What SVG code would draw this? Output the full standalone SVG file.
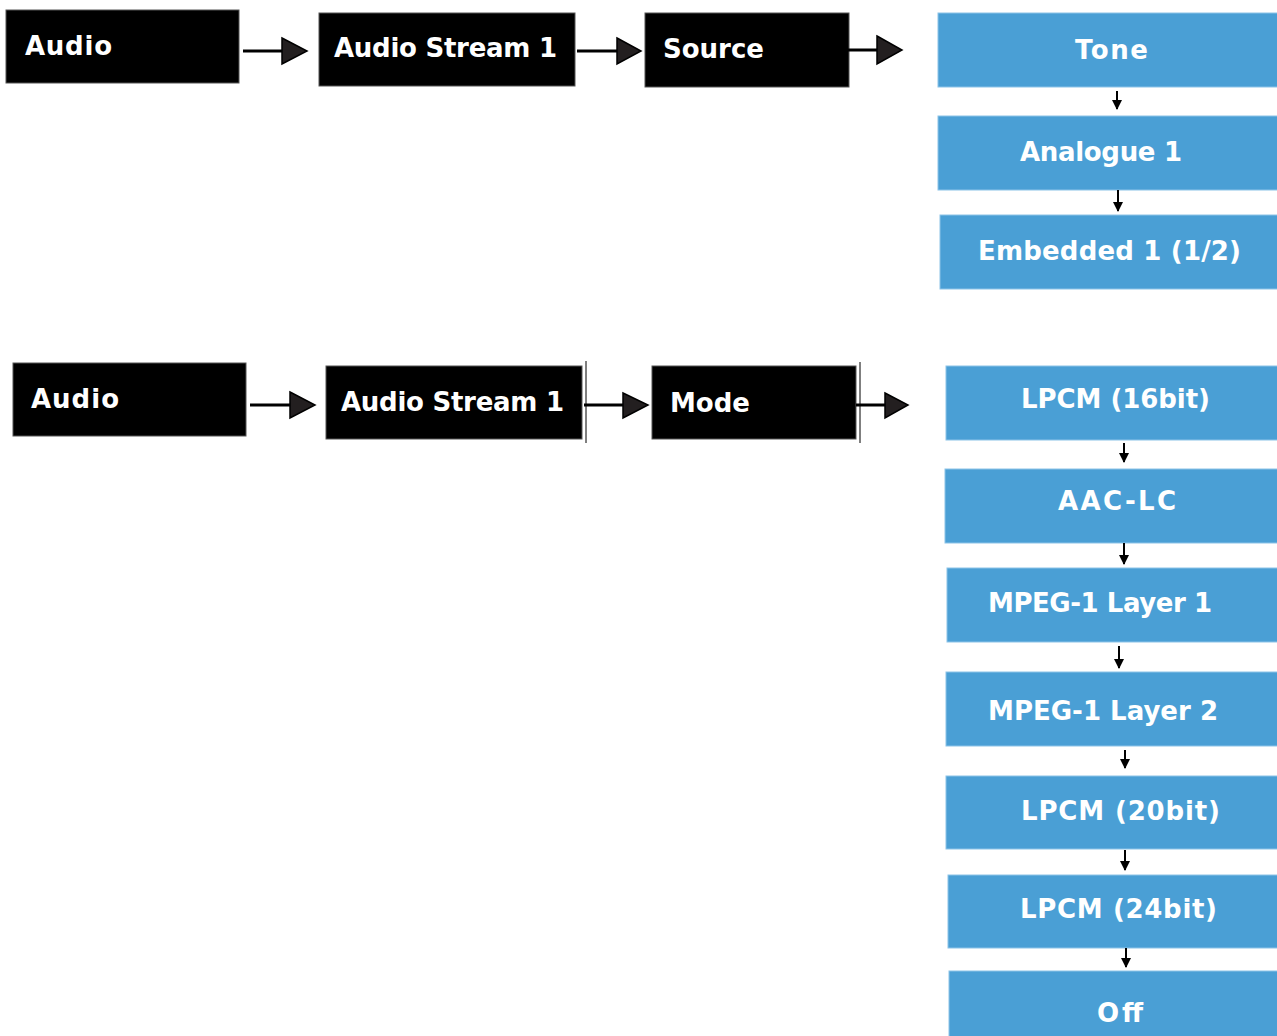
<svg xmlns="http://www.w3.org/2000/svg" width="1277" height="1036" viewBox="0 0 1277 1036">
<defs>
<style>
.blk{fill:#000;stroke:#555;stroke-width:1}
.blu{fill:#4a9fd5;stroke:#8cc3e8;stroke-width:1}
.t{font-family:"DejaVu Sans","Liberation Sans",Arial,sans-serif;font-weight:bold;font-size:26px;fill:#fff}
.ln{stroke:#000;stroke-width:3;fill:none}
.head{fill:#231f20;stroke:#000;stroke-width:1.5;stroke-linejoin:miter}
.sl{stroke:#000;stroke-width:2;fill:none}
.vl{stroke:#000;stroke-width:1;fill:none}
</style>
<marker id="sm" viewBox="0 0 10 10" refX="9" refY="5" markerWidth="10" markerHeight="10" markerUnits="userSpaceOnUse" orient="auto">
<path d="M0,0 L10,5 L0,10 Z" fill="#000"/>
</marker>
</defs>
<rect width="1277" height="1036" fill="#fff"/>

<g id="n-audio1"><rect class="blk" x="6" y="10" width="233" height="73"/><text class="t" x="25" y="55" textLength="87" lengthAdjust="spacing">Audio</text></g>
<g id="n-stream1"><rect class="blk" x="319" y="13" width="256" height="73"/><text class="t" x="334" y="57" textLength="223" lengthAdjust="spacing">Audio Stream 1</text></g>
<g id="n-source"><rect class="blk" x="645" y="13" width="204" height="74"/><text class="t" x="663" y="58" textLength="101" lengthAdjust="spacing">Source</text></g>
<g id="n-tone"><rect class="blu" x="938" y="13" width="340" height="74"/><text class="t" x="1075" y="59" textLength="73" lengthAdjust="spacing">Tone</text></g>
<g id="n-analogue"><rect class="blu" x="938" y="116" width="340" height="74"/><text class="t" x="1020" y="161" textLength="162" lengthAdjust="spacing">Analogue 1</text></g>
<g id="n-embedded"><rect class="blu" x="940" y="215" width="338" height="74"/><text class="t" x="978" y="260" textLength="263" lengthAdjust="spacing">Embedded 1 (1/2)</text></g>

<g id="n-audio2"><rect class="blk" x="13" y="363" width="233" height="73"/><text class="t" x="31" y="408" textLength="88" lengthAdjust="spacing">Audio</text></g>
<g id="n-stream2"><rect class="blk" x="326" y="366" width="256" height="73"/><text class="t" x="341" y="411" textLength="223" lengthAdjust="spacing">Audio Stream 1</text></g>
<g id="n-mode"><rect class="blk" x="652" y="366" width="204" height="73"/><text class="t" x="670" y="412" textLength="80" lengthAdjust="spacing">Mode</text></g>
<g id="n-lpcm16"><rect class="blu" x="946" y="366" width="332" height="74"/><text class="t" x="1021" y="408" textLength="189" lengthAdjust="spacing">LPCM (16bit)</text></g>
<g id="n-aac"><rect class="blu" x="945" y="469" width="333" height="74"/><text class="t" x="1058" y="510" textLength="118" lengthAdjust="spacing">AAC-LC</text></g>
<g id="n-mpeg1"><rect class="blu" x="947" y="568" width="331" height="74"/><text class="t" x="988" y="612" textLength="224" lengthAdjust="spacing">MPEG-1 Layer 1</text></g>
<g id="n-mpeg2"><rect class="blu" x="946" y="672" width="332" height="74"/><text class="t" x="988" y="720" textLength="230" lengthAdjust="spacing">MPEG-1 Layer 2</text></g>
<g id="n-lpcm20"><rect class="blu" x="946" y="776" width="332" height="73"/><text class="t" x="1021" y="820" textLength="199" lengthAdjust="spacing">LPCM (20bit)</text></g>
<g id="n-lpcm24"><rect class="blu" x="948" y="875" width="330" height="73"/><text class="t" x="1020" y="918" textLength="197" lengthAdjust="spacing">LPCM (24bit)</text></g>
<g id="n-off"><rect class="blu" x="949" y="971" width="329" height="66"/><text class="t" x="1097" y="1022" textLength="46" lengthAdjust="spacing">Off</text></g>

<g id="connectors">
<line class="ln" x1="243" y1="51" x2="283" y2="51"/><path class="head" d="M282,38 L307,51 L282,64 Z"/>
<line class="ln" x1="577" y1="51" x2="618" y2="51"/><path class="head" d="M617,38 L641,51 L617,64 Z"/>
<line class="ln" x1="838" y1="50" x2="878" y2="50"/><path class="head" d="M877,36 L902,50 L877,64 Z"/>
<line class="sl" x1="1117" y1="91" x2="1117" y2="109" marker-end="url(#sm)"/>
<line class="sl" x1="1118" y1="190" x2="1118" y2="211" marker-end="url(#sm)"/>

<line class="ln" x1="250" y1="405" x2="291" y2="405"/><path class="head" d="M290,392 L315,405 L290,418 Z"/>
<line class="vl" x1="586" y1="361" x2="586" y2="443"/>
<line class="ln" x1="584" y1="405" x2="624" y2="405"/><path class="head" d="M623,393 L648,405 L623,418 Z"/>
<line class="vl" x1="860" y1="362" x2="860" y2="443"/>
<line class="ln" x1="856" y1="405" x2="886" y2="405"/><path class="head" d="M885,393 L908,405 L885,418 Z"/>
<line class="sl" x1="1124" y1="443" x2="1124" y2="462" marker-end="url(#sm)"/>
<line class="sl" x1="1124" y1="543" x2="1124" y2="564" marker-end="url(#sm)"/>
<line class="sl" x1="1119" y1="646" x2="1119" y2="668" marker-end="url(#sm)"/>
<line class="sl" x1="1125" y1="750" x2="1125" y2="768" marker-end="url(#sm)"/>
<line class="sl" x1="1125" y1="850" x2="1125" y2="870" marker-end="url(#sm)"/>
<line class="sl" x1="1126" y1="948" x2="1126" y2="967" marker-end="url(#sm)"/>
</g>
</svg>
